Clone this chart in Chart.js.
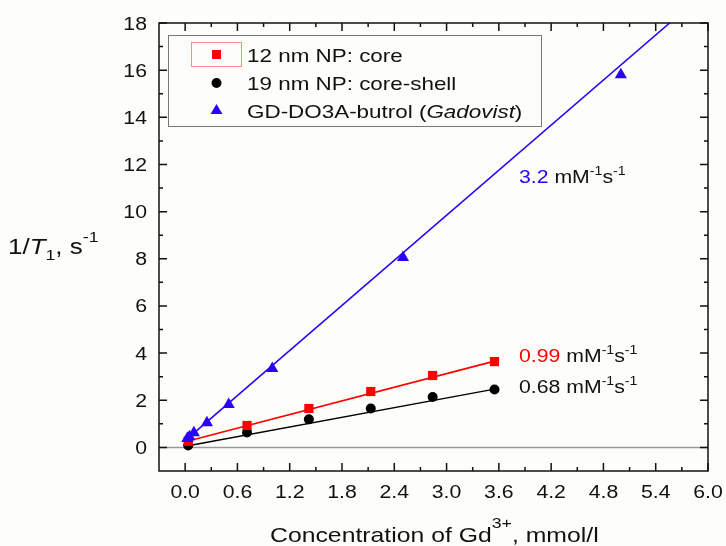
<!DOCTYPE html>
<html>
<head>
<meta charset="utf-8">
<script src="https://cdn.jsdelivr.net/npm/chart.js@4.4.1/dist/chart.umd.min.js"></script>
<style>
  html, body { margin: 0; background: #fdfdfa; }
  #wrap { width: 726px; height: 546px; }
</style>
</head>
<body>
<div id="wrap"><canvas id="c" width="726" height="546"></canvas></div>
<script>
// --- data ---
const coreX  = [0.035, 0.71, 1.42, 2.13, 2.84, 3.55];
const coreY  = [0.26, 0.93, 1.65, 2.37, 3.05, 3.64];
const shellX = [0.035, 0.71, 1.42, 2.13, 2.84, 3.55];
const shellY = [0.08, 0.63, 1.19, 1.65, 2.14, 2.46];
const gadoX  = [0.025, 0.05, 0.1, 0.25, 0.5, 1.0, 2.5, 5.0];
const gadoY  = [0.38, 0.45, 0.62, 1.05, 1.82, 3.35, 8.05, 15.8];

// linear fits (end points)
const coreFitX  = [0.035, 3.55];
const coreFitY  = [0.27, 3.66];
const shellFitX = [0.035, 3.55];
const shellFitY = [0.07, 2.47];
const gadoFitX  = [0.02, 5.56];
const gadoFitY  = [0.35, 18.0];

const xTickVals = [0.0, 0.6, 1.2, 1.8, 2.4, 3.0, 3.6, 4.2, 4.8, 5.4, 6.0];
const yTickVals = [0, 2, 4, 6, 8, 10, 12, 14, 16, 18];

const RED = '#ff0000';
const BLUE = '#2a00ff';
const INK = '#111';
const FONT = '"Liberation Sans", Arial, sans-serif';
const SX = 1.18; // the source text is a bit wider than Arial

const pts = (xs, ys) => xs.map((x, i) => ({ x: x, y: ys[i] }));

// draw a run of text pieces: [text, size, color, dy, italic]
function drawRun(ctx, x, y, parts, align) {
  ctx.save();
  ctx.textBaseline = 'alphabetic';
  ctx.textAlign = 'left';
  let w = 0;
  parts.forEach(p => {
    ctx.font = (p[4] ? 'italic ' : '') + p[1] + 'px ' + FONT;
    w += ctx.measureText(p[0]).width;
  });
  ctx.translate(x, y);
  ctx.scale(SX, 1);
  let cx = align === 'center' ? -w / 2 : align === 'right' ? -w : 0;
  parts.forEach(p => {
    ctx.font = (p[4] ? 'italic ' : '') + p[1] + 'px ' + FONT;
    ctx.fillStyle = p[2] || INK;
    ctx.fillText(p[0], cx, p[3] || 0);
    cx += ctx.measureText(p[0]).width;
  });
  ctx.restore();
}

const unit = (num, color) => [[num, 18, color], [' mM', 18], ['-1', 12, INK, -8], ['s', 18], ['-1', 12, INK, -8]];

const framePlugin = {
  id: 'frame',
  beforeDatasetsDraw(chart) {
    const { ctx, chartArea: a, scales } = chart;
    const y0 = scales.y.getPixelForValue(0);
    ctx.save();
    ctx.strokeStyle = '#9a9a9a';
    ctx.lineWidth = 1.5;
    ctx.beginPath();
    ctx.moveTo(a.left, y0);
    ctx.lineTo(a.right, y0);
    ctx.stroke();
    ctx.restore();
  },
  afterDraw(chart) {
    const { ctx, chartArea: a, scales } = chart;
    ctx.save();
    ctx.strokeStyle = INK;
    ctx.lineWidth = 1.5;
    ctx.strokeRect(a.left, a.top, a.right - a.left, a.bottom - a.top);
    ctx.beginPath();
    // x ticks, major every 0.6, minor every 0.3
    for (let i = 0; i <= 20; i++) {
      const px = scales.x.getPixelForValue(i * 0.3);
      const len = i % 2 === 0 ? 8 : 4;
      ctx.moveTo(px, a.bottom); ctx.lineTo(px, a.bottom - len);
      ctx.moveTo(px, a.top); ctx.lineTo(px, a.top + len);
    }
    // y ticks, major every 2, minor every 1
    for (let v = 0; v <= 18; v++) {
      const py = scales.y.getPixelForValue(v);
      const len = v % 2 === 0 ? 8 : 4;
      ctx.moveTo(a.left, py); ctx.lineTo(a.left + len, py);
      ctx.moveTo(a.right, py); ctx.lineTo(a.right - len, py);
    }
    ctx.stroke();

    // tick labels, placed by the scales
    scales.x.ticks.forEach(t => {
      drawRun(ctx, scales.x.getPixelForValue(t.value), a.bottom + 27, [[t.value.toFixed(1), 18]], 'center');
    });
    scales.y.ticks.forEach(t => {
      drawRun(ctx, a.left - 12, scales.y.getPixelForValue(t.value) + 6.5, [[String(t.value), 18]], 'right');
    });

    // legend box
    ctx.lineWidth = 1;
    ctx.strokeStyle = '#777';
    ctx.strokeRect(168.5, 35.5, 373, 91);
    ctx.strokeStyle = '#ff8a8a';
    ctx.strokeRect(191.5, 42.5, 50, 24);
    ctx.fillStyle = RED;
    ctx.fillRect(212, 50, 9, 9);
    ctx.fillStyle = '#000';
    ctx.beginPath(); ctx.arc(216.5, 83, 5, 0, Math.PI * 2); ctx.fill();
    ctx.fillStyle = BLUE;
    ctx.beginPath();
    ctx.moveTo(216.5, 104); ctx.lineTo(222.5, 114); ctx.lineTo(210.5, 114);
    ctx.closePath(); ctx.fill();
    drawRun(ctx, 247, 62, [['12 nm NP: core', 19]]);
    drawRun(ctx, 247, 90, [['19 nm NP: core-shell', 19]]);
    drawRun(ctx, 247, 118, [['GD-DO3A-butrol (', 19], ['Gadovist', 19, INK, 0, true], [')', 19]]);

    // relaxivity annotations
    drawRun(ctx, 519, 183, unit('3.2', BLUE));
    drawRun(ctx, 519, 362, unit('0.99', RED));
    drawRun(ctx, 519, 393, unit('0.68', INK));

    // axis titles
    drawRun(ctx, 8, 254, [['1/', 22], ['T', 22, INK, 0, true], ['1', 15, INK, 6], [', s', 22], ['-1', 15, INK, -12]]);
    drawRun(ctx, 270, 542, [['Concentration of Gd', 21], ['3+', 15, INK, -14], [', mmol/l', 21]]);
    ctx.restore();
  }
};

const fixedTicks = vals => scale => { scale.ticks = vals.map(v => ({ value: v })); };

new Chart(document.getElementById('c'), {
  type: 'scatter',
  data: {
    datasets: [
      { data: pts(gadoX, gadoY), pointStyle: 'triangle', pointRadius: 7, backgroundColor: BLUE, borderColor: BLUE, borderWidth: 0 },
      { data: pts(coreX, coreY), pointStyle: 'rect', pointRadius: 6.5, backgroundColor: RED, borderColor: RED, borderWidth: 0 },
      { data: pts(shellX, shellY), pointStyle: 'circle', pointRadius: 5, backgroundColor: '#000', borderColor: '#000', borderWidth: 0 },
      { data: pts(gadoFitX, gadoFitY), showLine: true, pointRadius: 0, borderColor: BLUE, borderWidth: 1.6 },
      { data: pts(coreFitX, coreFitY), showLine: true, pointRadius: 0, borderColor: RED, borderWidth: 1.6 },
      { data: pts(shellFitX, shellFitY), showLine: true, pointRadius: 0, borderColor: '#000', borderWidth: 1.4 }
    ]
  },
  options: {
    responsive: false,
    animation: false,
    devicePixelRatio: 1,
    layout: { padding: { left: 0, top: 23, right: 18, bottom: 0 } },
    plugins: { legend: { display: false }, tooltip: { enabled: false } },
    scales: {
      x: {
        type: 'linear', min: -0.3, max: 6.0,
        afterBuildTicks: fixedTicks(xTickVals),
        afterFit: s => { s.height = 75; },
        grid: { display: false },
        border: { display: false },
        ticks: { display: false }
      },
      y: {
        type: 'linear', min: -1, max: 18,
        afterBuildTicks: fixedTicks(yTickVals),
        afterFit: s => { s.width = 159; },
        grid: { display: false },
        border: { display: false },
        ticks: { display: false }
      }
    }
  },
  plugins: [framePlugin]
});
</script>
</body>
</html>
